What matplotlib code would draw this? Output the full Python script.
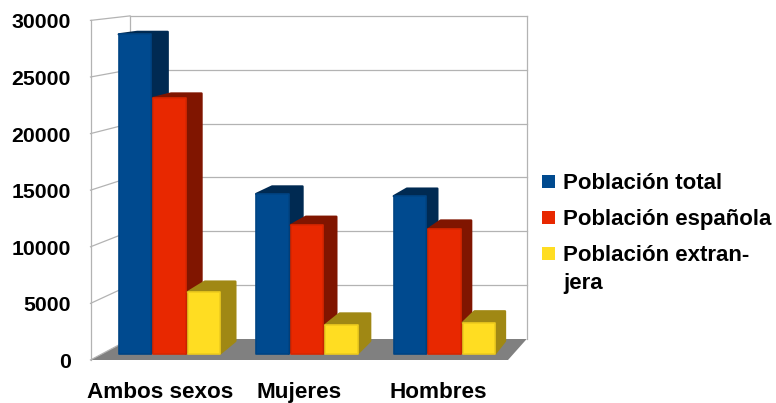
import matplotlib.pyplot as plt
from matplotlib.patches import Polygon, Rectangle

plt.rcParams["font.family"] = ["Liberation Sans", "DejaVu Sans"]
plt.rcParams["font.weight"] = "bold"

# Data
categories = ["Ambos sexos", "Mujeres", "Hombres"]
series_names = ["Población total", "Población española", "Población extran-\njera"]
poblacion_total = [28600, 14300, 14100]
poblacion_espanola = [22900, 11500, 11150]
poblacion_extranjera = [5500, 2550, 2750]
y_ticks = [0, 5000, 10000, 15000, 20000, 25000, 30000]

front_colors = ["#004a8f", "#e82800", "#ffdd22"]
edge_colors = ["#004484", "#d82600", "#eecb1e"]
side_colors = ["#002a52", "#801500", "#a08814"]
grid_color = "#b3b3b3"

# Fake 3D geometry, everything in figure pixels (y down)
floor_front_left, floor_front_right = 90.5, 508
floor_back_left, floor_back_right = 130, 526.7
group_pitch = 137.5
first_bar_x = 118.7
bar_w = 32.5
bar_gap = 34.5


def wall_front(v):
    return 360 - 0.01132 * v


def wall_back(v):
    return 339 - 0.01077 * v


def bar_front(v):
    return 353.5 - 0.01116 * v


def bar_back(v):
    return 341 - 0.01081 * v


def bar_dx(x):
    # depth of a bar shrinks towards the right, perspective
    return 17.2 - 0.0195 * (x - 118)


fig = plt.figure(figsize=(7.76, 4.03), dpi=100)
ax = fig.add_axes([0, 0, 1, 1])
ax.set_xlim(0, 776)
ax.set_ylim(403, 0)
ax.axis("off")

# walls and floor
ax.add_patch(Polygon([(floor_front_left, wall_front(0)), (floor_back_left, wall_back(0)),
                      (floor_back_right, wall_back(0)), (floor_front_right, wall_front(0))],
                     facecolor="#808080", edgecolor="none", zorder=1))
for t in y_ticks:
    ax.plot([floor_front_left, floor_back_left], [wall_front(t), wall_back(t)], color=grid_color, lw=0.9, zorder=1)
    if t > 0:
        ax.plot([floor_back_left, floor_back_right], [wall_back(t), wall_back(t)], color=grid_color, lw=0.9, zorder=1)
    ax.text(71, wall_front(t) + 8, str(t), ha="right", va="baseline", fontsize=15.3)
top = y_ticks[-1]
ax.plot([floor_front_left, floor_front_left], [wall_front(0), wall_front(top)], color=grid_color, lw=0.9, zorder=1)
ax.plot([floor_back_left, floor_back_left], [wall_back(0), wall_back(top)], color=grid_color, lw=0.9, zorder=1)
ax.plot([floor_back_right, floor_back_right], [wall_back(0), wall_back(top)], color=grid_color, lw=0.9, zorder=1)

# bars
all_series = [poblacion_total, poblacion_espanola, poblacion_extranjera]
z = 2
for g in range(len(categories)):
    for s, values in enumerate(all_series):
        v = values[g]
        x0 = first_bar_x + g * group_pitch + s * bar_gap
        x1 = x0 + bar_w
        dx = bar_dx(x1)
        back = [(x1, bar_front(0)), (x1 + dx, bar_back(0)), (x1 + dx, bar_back(v)),
                (x0 + dx + 2, bar_back(v)), (x0, bar_front(v)), (x1, bar_front(v))]
        face = [(x0, bar_front(0)), (x0, bar_front(v)), (x1, bar_front(v)), (x1, bar_front(0))]
        ax.add_patch(Polygon(back, facecolor=side_colors[s], edgecolor=side_colors[s], lw=1.6,
                             joinstyle="round", zorder=z))
        ax.add_patch(Polygon(face, facecolor=front_colors[s], edgecolor=edge_colors[s], lw=1.2,
                             joinstyle="round", zorder=z + 1))
        z += 2

# category labels, a bit higher than the original so the j is not clipped
slot = (floor_front_right - floor_front_left) / len(categories)
for i, name in enumerate(categories):
    ax.text(floor_front_left + slot * (i + 0.5), 398, name, ha="center", va="baseline", fontsize=16.2)

# legend, drawn by hand so the wrapped entry keeps its swatch on the first line
legend_baselines = [189, 225, 261]
for name, color, base in zip(series_names, front_colors, legend_baselines):
    ax.add_patch(Rectangle((542.3, base - 14), 12.7, 12.5, facecolor=color, edgecolor="none"))
    first, *rest = name.split("\n")
    ax.text(563, base, first, ha="left", va="baseline", fontsize=16)
    for n, line in enumerate(rest):
        ax.text(563, base + 28 * (n + 1), line, ha="left", va="baseline", fontsize=16)

fig.savefig("out.png", dpi=100)
